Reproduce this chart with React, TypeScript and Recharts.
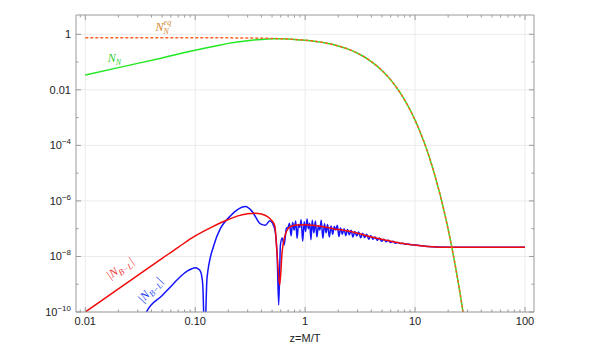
import { LineChart, Line, XAxis, YAxis, CartesianGrid, ReferenceDot } from 'recharts';

// equilibrium abundance N_N^eq(z)
const zEq = [0.01, 0.1, 0.2, 0.3, 0.4, 0.5, 0.6, 0.7, 0.8, 1, 1.5, 2, 2.5, 3, 4, 5, 6, 7, 8, 9, 10, 11, 12, 13, 14, 15, 16, 17, 18, 19, 20, 21, 22, 23, 24, 25, 26, 27, 28];
const nEq = [0.75, 0.748, 0.7425, 0.733, 0.722, 0.708, 0.691, 0.673, 0.653, 0.609, 0.492, 0.381, 0.285, 0.208, 0.104, 0.0498, 0.0228, 0.0102, 0.00445, 0.00191, 8.07e-4, 3.37e-4, 1.395e-4, 5.72e-5, 2.33e-5, 9.43e-6, 3.79e-6, 1.52e-6, 6.05e-7, 2.4e-7, 9.49e-8, 3.74e-8, 1.47e-8, 5.76e-9, 2.25e-9, 8.78e-10, 3.42e-10, 1.33e-10, 5.14e-11];

// N_N before it joins equilibrium (after z=0.8 it follows nEq)
const zNRise = [0.01, 0.02, 0.05, 0.1, 0.15, 0.2, 0.3, 0.4, 0.5, 0.6, 0.7];
const nNRise = [0.034, 0.063, 0.141, 0.266, 0.37, 0.47, 0.59, 0.653, 0.69, 0.685, 0.672];

// |N_B-L|, red curve
const zRed = [0.01, 0.02, 0.03, 0.05, 0.07, 0.1, 0.14, 0.2, 0.25, 0.3, 0.35, 0.4, 0.45, 0.5, 0.53, 0.556, 0.587, 0.618, 0.676, 0.735, 0.85, 1, 1.5, 2, 2.6, 4, 5.5, 7.4, 10, 14, 20, 100];
const nRed = [1e-10, 6.8e-10, 2.1e-9, 8.5e-9, 2.14e-8, 5.5e-8, 1.12e-7, 2.14e-7, 2.95e-7, 3.47e-7, 3.63e-7, 3.39e-7, 2.75e-7, 1.9e-7, 1.26e-7, 1.15e-8, 9.5e-10, 1.5e-8, 7.9e-8, 1.2e-7, 1.35e-7, 1.38e-7, 1.15e-7, 9.3e-8, 7.9e-8, 5.0e-8, 3.8e-8, 3.0e-8, 2.57e-8, 2.25e-8, 2.15e-8, 2.15e-8];

// |N_B-L|, blue curve (oscillating)
const zBlue = [
  0.033, 0.036, 0.05, 0.06, 0.0735, 0.085, 0.093, 0.1, 0.106, 0.112, 0.117, 0.122, 0.128, 0.148, 0.17, 0.202, 0.241, 0.287, 0.329, 0.392, 0.436, 0.477, 0.526, 0.556, 0.575, 0.596, 0.618, 0.645, 0.676,
  0.7, 0.72, 0.745, 0.77, 0.795, 0.82, 0.845, 0.87, 0.895, 0.92, 0.95, 0.98, 1.01, 1.04, 1.07, 1.1, 1.13, 1.16, 1.2, 1.24,
  1.28, 1.32, 1.36, 1.4, 1.45, 1.5, 1.55, 1.6, 1.66, 1.72, 1.78, 1.84, 1.9, 1.96, 2.03, 2.1, 2.18, 2.26, 2.34, 2.43,
  2.52, 2.62, 2.72, 2.83, 2.95, 3.07, 3.2, 3.34, 3.48, 3.63, 3.79, 3.96, 4.14, 4.33, 4.53, 4.74, 4.96, 5.2, 5.45, 5.72,
  6.0, 6.3, 6.62, 6.96, 7.32, 7.7, 8.1, 8.6, 9.0, 10, 13, 20, 100,
];
const nBlue = [
  4e-11, 1e-10, 3.9e-10, 8.3e-10, 1.9e-9, 3.0e-9, 3.6e-9, 3.9e-9, 3.6e-9, 2.8e-9, 1.0e-9, 1e-11, 1.66e-9, 2.6e-8, 1.05e-7, 2.5e-7, 4.8e-7, 6.3e-7, 4.2e-7, 1.48e-7, 1.32e-7, 1.95e-7, 1.05e-7, 1.15e-8, 1.8e-10, 2.6e-8, 4.6e-8, 2.6e-8, 1.05e-7,
  1.12e-7, 1.58e-7, 5.6e-8, 1.66e-7, 8.9e-8, 1.9e-7, 4.5e-8, 1.41e-7, 1.12e-7, 2.1e-7, 3.5e-8, 1.78e-7, 7.9e-8, 2.24e-7, 1.0e-7, 1.58e-7, 4.0e-8, 2.0e-7, 7.1e-8, 1.9e-7,
  5.0e-8, 1.26e-7, 8.9e-8, 2.0e-7, 4.5e-8, 1.51e-7, 7.1e-8, 1.41e-7, 5.0e-8, 1.26e-7, 6.3e-8, 1.2e-7, 8.9e-8, 1.32e-7, 5.2e-8, 1.05e-7, 6.3e-8, 1.0e-7, 5.6e-8, 9.3e-8,
  6.0e-8, 8.7e-8, 5.0e-8, 7.9e-8, 5.5e-8, 7.6e-8, 4.7e-8, 6.8e-8, 4.8e-8, 6.3e-8, 4.2e-8, 5.6e-8, 4.2e-8, 5.0e-8, 3.8e-8, 4.6e-8, 3.5e-8, 4.2e-8, 3.4e-8, 3.8e-8,
  3.16e-8, 3.5e-8, 3.0e-8, 3.2e-8, 2.9e-8, 3.0e-8, 2.75e-8, 2.8e-8, 2.7e-8, 2.57e-8, 2.3e-8, 2.15e-8, 2.15e-8,
];

const xMajor = [0.01, 0.1, 1, 10, 100];
const xTickLabels = ['0.01', '0.10', '1', '10', '100'];
const xMinor = [0.009, 0.02, 0.03, 0.04, 0.05, 0.06, 0.07, 0.08, 0.09, 0.2, 0.3, 0.4, 0.5, 0.6, 0.7, 0.8, 0.9, 2, 3, 4, 5, 6, 7, 8, 9, 20, 30, 40, 50, 60, 70, 80, 90];
const yMajor = [1e-10, 1e-8, 1e-6, 1e-4, 0.01, 1];
const yTickLabels = [['10', '−10'], ['10', '−8'], ['10', '−6'], ['10', '−4'], ['0.01', ''], ['1', '']];
const yMinor = [1e-9, 1e-7, 1e-5, 1e-3, 0.1];

const xTicks = [...xMajor, ...xMinor].sort((a, b) => a - b);
const yTicks = [...yMajor, ...yMinor].sort((a, b) => a - b);

const toPoints = (zs: number[], ns: number[]) => zs.map((z, i) => ({ z, n: ns[i] }));
const eqData = toPoints(zEq, nEq);
const greenData = toPoints([...zNRise, ...zEq.slice(8)], [...nNRise, ...nEq.slice(8)]);
const redData = toPoints(zRed, nRed);
const blueData = toPoints(zBlue, nBlue);

const FRAME = '#9a9a9a';
const TICK_FONT = { fontFamily: 'Liberation Sans, Arial, sans-serif', fontSize: 11, fill: '#222' };
const SERIF = 'Liberation Serif, Times New Roman, serif';

function BottomTick({ x, y, payload }: any) {
  const i = xMajor.indexOf(payload.value);
  const len = i >= 0 ? 5 : 2.5;
  return (
    <g>
      <line x1={x} y1={y} x2={x} y2={y - len} stroke={FRAME} />
      {i >= 0 && (
        <text x={x} y={y + 13} textAnchor="middle" {...TICK_FONT}>
          {xTickLabels[i]}
        </text>
      )}
    </g>
  );
}

function TopTick({ x, y, payload }: any) {
  const len = xMajor.includes(payload.value) ? 5 : 2.5;
  return <line x1={x} y1={y} x2={x} y2={y + len} stroke={FRAME} />;
}

function LeftTick({ x, y, payload }: any) {
  const i = yMajor.indexOf(payload.value);
  const len = i >= 0 ? 5 : 2.5;
  return (
    <g>
      <line x1={x} y1={y} x2={x + len} y2={y} stroke={FRAME} />
      {i >= 0 && (
        <text x={x - 5} y={y + 4} textAnchor="end" {...TICK_FONT}>
          <tspan>{yTickLabels[i][0]}</tspan>
          {yTickLabels[i][1] && (
            <tspan dy={-5} fontSize={8}>
              {yTickLabels[i][1]}
            </tspan>
          )}
        </text>
      )}
    </g>
  );
}

function RightTick({ x, y, payload }: any) {
  const len = yMajor.includes(payload.value) ? 5 : 2.5;
  return <line x1={x} y1={y} x2={x - len} y2={y} stroke={FRAME} />;
}

const eqLabel = ({ cx, cy }: any) => (
  <text x={cx} y={cy} fontFamily={SERIF} fontStyle="italic" fontSize={12} fill="#d4862f">
    N
    <tspan dy={3} fontSize={8}>N</tspan>
    <tspan x={cx + 8} dy={-9} fontSize={8}>eq</tspan>
  </text>
);

const nLabel = ({ cx, cy }: any) => (
  <text x={cx} y={cy} fontFamily={SERIF} fontStyle="italic" fontSize={12} fill="#33cc33">
    N<tspan dy={3} fontSize={8}>N</tspan>
  </text>
);

const bl = (color: string, angle: number) => ({ cx, cy }: any) => (
  <text
    x={cx}
    y={cy}
    textAnchor="middle"
    transform={`rotate(${angle}, ${cx}, ${cy})`}
    fontFamily={SERIF}
    fontStyle="italic"
    fontSize={12}
    fill={color}
  >
    |N<tspan dy={3} fontSize={8.5}>B−L</tspan>
    <tspan dy={-3}>|</tspan>
  </text>
);

export default function App() {
  return (
    <div style={{ position: 'absolute', left: 0, top: 0, width: 599, height: 354, background: '#fff' }}>
      <LineChart width={599} height={354} margin={{ top: 10, right: 60, bottom: 12, left: 16 }}>
        <CartesianGrid
          stroke="#ebebeb"
          horizontalValues={yMajor}
          verticalValues={xMajor}
        />
        <XAxis
          dataKey="z"
          type="number"
          scale="log"
          domain={[0.00823, 120.8]}
          allowDataOverflow
          ticks={xTicks}
          interval={0}
          height={30}
          tickSize={0}
          tickMargin={0}
          tickLine={false}
          axisLine={{ stroke: FRAME }}
          tick={<BottomTick />}
          label={{ value: 'z=M/T', position: 'insideBottom', offset: 0, style: { ...TICK_FONT } }}
        />
        <XAxis
          xAxisId="top"
          orientation="top"
          dataKey="z"
          type="number"
          scale="log"
          domain={[0.00823, 120.8]}
          allowDataOverflow
          ticks={xTicks}
          interval={0}
          height={5}
          tickSize={0}
          tickMargin={0}
          tickLine={false}
          axisLine={{ stroke: FRAME }}
          tick={<TopTick />}
        />
        <YAxis
          type="number"
          scale="log"
          domain={[1e-10, 4.94]}
          allowDataOverflow
          ticks={yTicks}
          interval={0}
          width={60}
          tickSize={0}
          tickMargin={0}
          tickLine={false}
          axisLine={{ stroke: FRAME }}
          tick={<LeftTick />}
        />
        <YAxis
          yAxisId="right"
          orientation="right"
          type="number"
          scale="log"
          domain={[1e-10, 4.94]}
          allowDataOverflow
          ticks={yTicks}
          interval={0}
          width={5}
          tickSize={0}
          tickMargin={0}
          tickLine={false}
          axisLine={{ stroke: FRAME }}
          tick={<RightTick />}
        />
        <Line data={greenData} dataKey="n" type="monotone" stroke="#22e822" strokeWidth={1.5} dot={false} activeDot={false} isAnimationActive={false} />
        <Line data={blueData} dataKey="n" type="monotone" stroke="#1414ff" strokeWidth={1.5} dot={false} activeDot={false} isAnimationActive={false} />
        <Line data={redData} dataKey="n" type="monotone" stroke="#f20a0a" strokeWidth={1.5} dot={false} activeDot={false} isAnimationActive={false} />
        <Line data={eqData} dataKey="n" type="monotone" stroke="#ff6326" strokeWidth={1.5} strokeDasharray="3 2" dot={false} activeDot={false} isAnimationActive={false} />
        <ReferenceDot x={0.0436} y={1.3} ifOverflow="visible" shape={eqLabel} />
        <ReferenceDot x={0.016} y={0.1} ifOverflow="visible" shape={nLabel} />
        <ReferenceDot x={0.0217} y={2.9e-9} ifOverflow="visible" shape={bl('#ee3333', -34)} />
        <ReferenceDot x={0.0413} y={5.1e-10} ifOverflow="visible" shape={bl('#2244ee', -47)} />
      </LineChart>
    </div>
  );
}
